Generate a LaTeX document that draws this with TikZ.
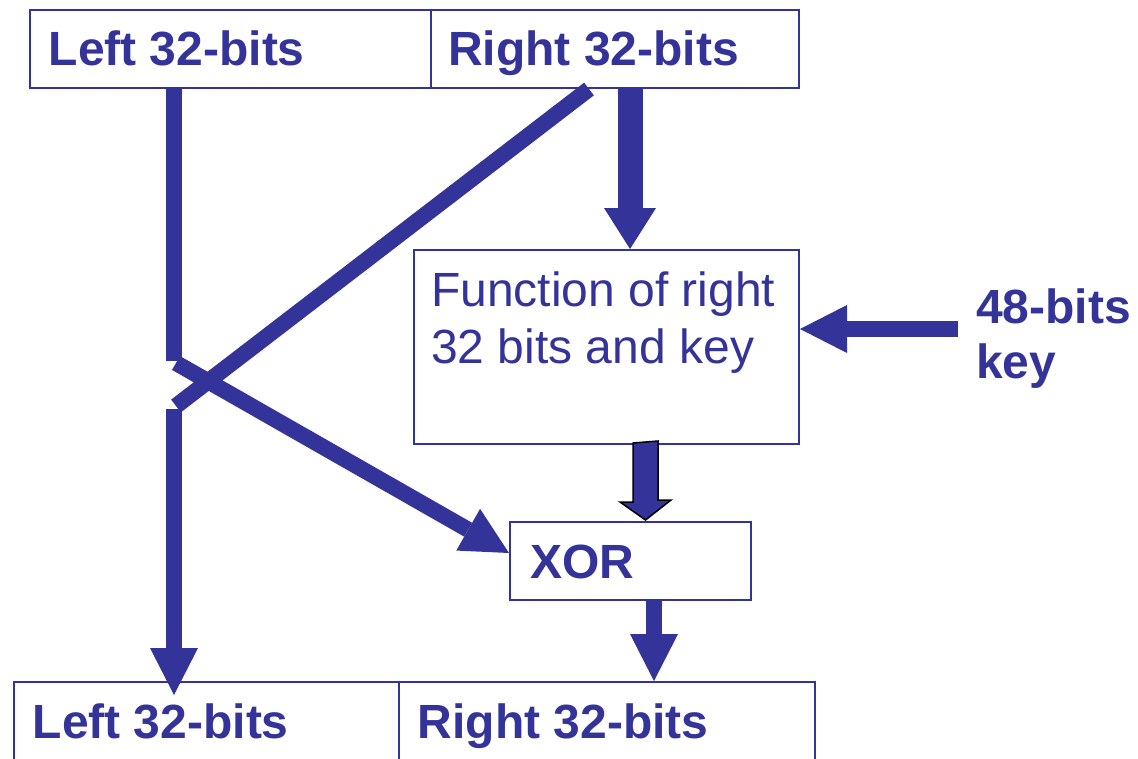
\documentclass[tikz,border=0pt]{standalone}
\usepackage{fontspec}
\setmainfont{Liberation Sans}
\usetikzlibrary{arrows.meta,calc}
\definecolor{desblue}{RGB}{51,51,153}
\begin{document}
\begin{tikzpicture}[x=1pt,y=-1pt,
  box/.style={draw=desblue, line width=2pt, inner sep=0pt, anchor=north west},
  lbl/.style={text=desblue, font=\fontsize{48}{57}\selectfont\bfseries, inner sep=0pt, anchor=base west},
  plain/.style={text=desblue, font=\fontsize{48}{57}\selectfont, inner sep=0pt, anchor=base west},
  bar/.style={draw=desblue, line width=16pt},
  bararrow/.style={bar, -{Triangle[length=47pt,width=48pt,line width=0pt]}},
  fatarrow/.style={draw=desblue, line width=25pt, -{Triangle[length=41pt,width=52pt,line width=0pt]}},
]
\clip (0,0) rectangle (1138,758);
\fill[white] (0,0) rectangle (1138,758);

% boxes
\node[box, minimum width=401pt, minimum height=78pt] (tl) at (29,9) {};
\node[box, minimum width=368pt, minimum height=78pt] (tr) at (430,9) {};
\node[box, minimum width=385pt, minimum height=194pt] (fn) at (413,249) {};
\node[box, minimum width=241pt, minimum height=78pt] (xor) at (509,521) {};
\node[box, minimum width=385pt, minimum height=120pt] (bl) at (13,681) {};
\node[box, minimum width=416pt, minimum height=120pt] (br) at (398,681) {};

% labels
\node[lbl] (tlt) at (48.5,65) {Left 32-bits};
\node[lbl] (trt) at (448,65) {Right 32-bits};
\node[plain] (fnt1) at (431,306) {Function of right};
\node[plain] (fnt2) at (431,363) {32 bits and key};
\node[lbl] (key1) at (976,323) {48-bits};
\node[lbl] (key2) at (976,378) {key};
\node[lbl] (xort) at (530,578) {XOR};
\node[lbl] (blt) at (32.5,738) {Left 32-bits};
\node[lbl] (brt) at (417.5,738) {Right 32-bits};

% helper coordinates
\coordinate (lx) at (174,0);
\coordinate (lgapA) at (174,361);
\coordinate (lgapB) at (174,409);
\coordinate (dA) at (589,89);
\coordinate (dB) at (176,406);
\coordinate (eA) at (176,363);
\coordinate (rx) at (630,0);
\coordinate (ox) at (645.5,0);
\coordinate (xx) at (654,0);
\coordinate (keysrc) at (958,329);

% left half passes straight down, broken where the crossing bars meet
\draw[bar] (tl.south -| lx) -- (lgapA);
\draw[bararrow] (lgapB) -- ($(bl.north -| lx)+(0,14)$);

% right half becomes the new left half
\draw[bar] (dA) -- (dB);

% left half goes to the XOR
\draw[bararrow] (eA) -- ($(xor.west)+(0,-8)$);

% right half into the round function
\draw[fatarrow] (tr.south -| rx) -- (fn.north -| rx);

% round key
\draw[bararrow] (keysrc) -- (fn.east |- keysrc);

% function output into the XOR (outlined arrow)
\filldraw[fill=desblue, draw=black, line width=1.5pt, line join=miter]
  ($(fn.south -| ox)+(-12.5,-2)$) -- ++(0,59) -- ++(-13,0)
  -- ($(xor.north -| ox)+(0,-1)$) -- ++(25.5,-20) -- ++(-13,0)
  -- ++(0,-59) -- cycle;

% XOR result becomes the new right half
\draw[bararrow] (xor.south -| xx) -- (br.north -| xx);
\end{tikzpicture}
\end{document}
